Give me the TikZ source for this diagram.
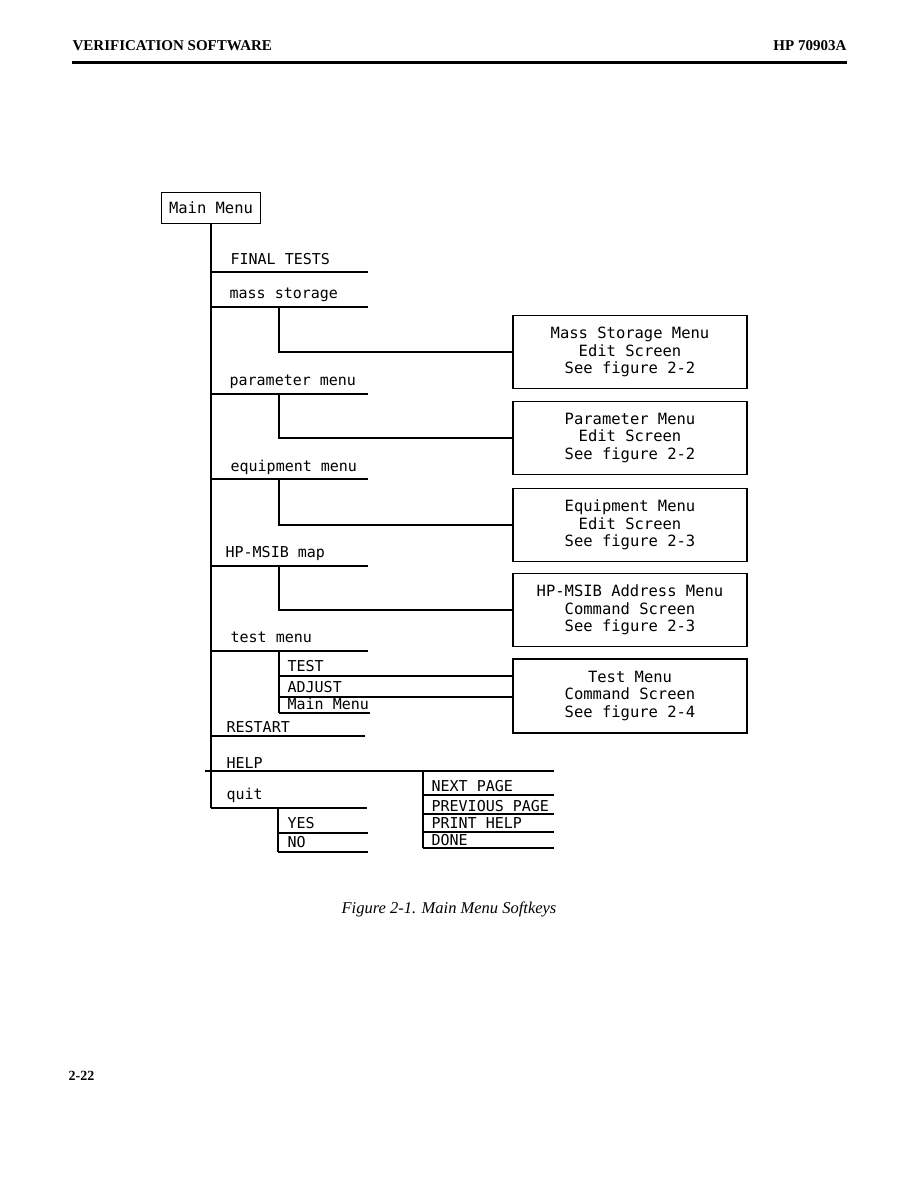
\documentclass[tikz,border=0pt]{standalone}
\usepackage{fontspec}
\setmainfont{Liberation Serif}
\newfontfamily\plotfont{DejaVu Sans Mono}
\begin{document}
\begin{tikzpicture}[x=1pt, y=-1pt, line width=1.2pt]
    \tikzset{key/.style={font=\plotfont\fontsize{15}{17}\selectfont, inner sep=0pt, anchor=base west},
             scrn/.style={draw, minimum width=234pt, minimum height=73pt, inner sep=0pt, align=center,
                          font=\plotfont\fontsize{15.5}{17.5}\selectfont},
             hdr/.style={font=\bfseries\fontsize{15}{18}\selectfont, inner sep=0pt}}
    \useasboundingbox (0,0) rectangle (918,1188);
    % page header
    \node[hdr, anchor=base west] (hdleft) at (72,51) {VERIFICATION SOFTWARE};
    \node[hdr, anchor=base east] (hdright) at (847,51) {HP 70903A};
    \coordinate (rule-l) at (72,63);
    \coordinate (rule-r) at (847,63);
    \draw[line width=3pt] (rule-l) -- (rule-r);
    % main menu and its softkeys
    \node[draw, minimum width=99pt, minimum height=31pt, inner sep=0pt,
          font=\plotfont\fontsize{15.5}{17}\selectfont] (main) at (211,208) {Main Menu};
    \foreach \nm/\txt/\xt/\yt/\y/\xr in {final/FINAL TESTS/230/264/272/368, mass/mass storage/229/298/307/368,
        param/parameter menu/229/385/394/368, equip/equipment menu/230/471/479/368,
        map/HP-MSIB map/225/557/566/368, test/test menu/230/642/651/368,
        restart/RESTART/226/732/736/365, quit/quit/226/799/808/367} {
      \node[key] (\nm) at (\xt,\yt) {\txt};
      \coordinate (\nm-l) at (211,\y);
      \coordinate (\nm-r) at (\xr,\y);
      \draw (\nm-l) -- (\nm-r);
    }
    \draw (main.south) -- (quit-l);
    \node[key] (help) at (226,768) {HELP};
    \coordinate (help-l) at (205,771);
    \coordinate (help-r) at (554,771);
    \draw (help-l) -- (help-r);
    % edit and command screens
    \node[scrn] (msscr) at (630,352) {Mass Storage Menu\\Edit Screen\\See figure 2-2};
    \node[scrn] (parscr) at (630,438) {Parameter Menu\\Edit Screen\\See figure 2-2};
    \node[scrn] (eqscr) at (630,525) {Equipment Menu\\Edit Screen\\See figure 2-3};
    \node[scrn] (mapscr) at (630,610) {HP-MSIB Address Menu\\Command Screen\\See figure 2-3};
    \node[scrn, minimum height=74pt] (tstscr) at (630,696) {Test Menu\\Command Screen\\See figure 2-4};
    \foreach \k/\s in {mass/msscr, param/parscr, equip/eqscr, map/mapscr}
      \draw ([xshift=68pt]\k-l) |- (\s.west);
    % test menu softkeys
    \foreach \nm/\txt/\yt/\y in {ttest/TEST/671/676, tadj/ADJUST/692/697, tmain/Main Menu/709/713} {
      \node[key] (\nm) at (287,\yt) {\txt};
      \coordinate (\nm-l) at (279,\y);
    }
    \draw ([xshift=68pt]test-l) -- (tmain-l);
    \draw (ttest-l) -- (ttest-l -| tstscr.west);
    \draw (tadj-l) -- (tadj-l -| tstscr.west);
    \draw (tmain-l) -- ++(91,0);
    % help softkeys
    \foreach \nm/\txt/\yt/\y in {next/NEXT PAGE/791/795, prev/PREVIOUS PAGE/811/814,
        print/PRINT HELP/828/832, done/DONE/845/848} {
      \node[key] (\nm) at (431,\yt) {\txt};
      \coordinate (\nm-l) at (423,\y);
      \draw (\nm-l) -- ++(131,0);
    }
    \draw (help-l -| done-l) -- (done-l);
    % quit softkeys
    \foreach \nm/\txt/\yt/\y in {yes/YES/828/833, no/NO/847/852} {
      \node[key] (\nm) at (287,\yt) {\txt};
      \coordinate (\nm-l) at (278,\y);
      \draw (\nm-l) -- ++(90,0);
    }
    \draw (quit-l -| no-l) -- (no-l);
    % caption and page number
    \node[font=\itshape\fontsize{16.5}{19}\selectfont, anchor=base, inner sep=0pt] (caption) at (449,913)
      {Figure 2-1. Main Menu Softkeys};
    \node[hdr, font=\bfseries\fontsize{14}{17}\selectfont, anchor=base west] (pageno) at (68,1080) {2-22};
\end{tikzpicture}
\end{document}
